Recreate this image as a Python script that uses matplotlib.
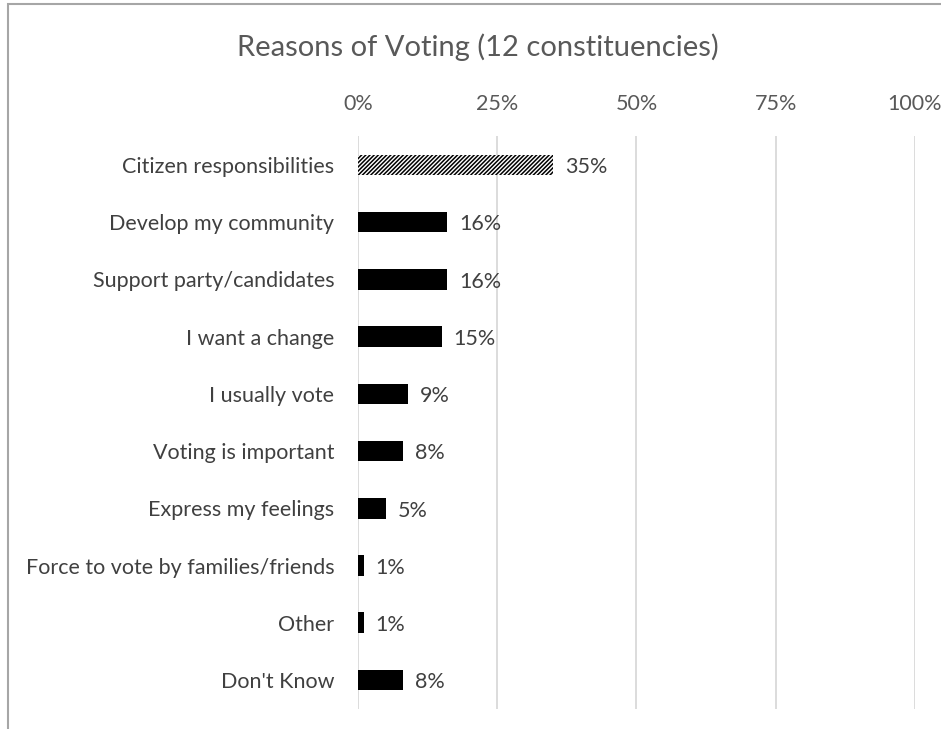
import matplotlib.pyplot as plt
from matplotlib.patches import Rectangle

# data
reasons = ["Citizen responsibilities", "Develop my community", "Support party/candidates",
           "I want a change", "I usually vote", "Voting is important", "Express my feelings",
           "Force to vote by families/friends", "Other", "Don't Know"]
shares = [0.35, 0.16, 0.16, 0.15, 0.09, 0.08, 0.05, 0.01, 0.01, 0.08]
hatched = [True, False, False, False, False, False, False, False, False, False]
ticks = [0, 0.25, 0.5, 0.75, 1.0]
tick_labels = ["0%", "25%", "50%", "75%", "100%"]

plt.rcParams['font.family'] = ['Lato', 'DejaVu Sans']
plt.rcParams['hatch.linewidth'] = 1.1
plt.rcParams['hatch.color'] = 'black'

fig = plt.figure(figsize=(9.41, 7.29), dpi=100)
ax = fig.add_axes([0.3804, 0.028, 0.592, 0.785])

ypos = list(range(len(reasons)))
for y, v, h in zip(ypos, shares, hatched):
    if h:
        ax.barh(y, v, height=0.36, color='white', edgecolor='black', linewidth=0,
                hatch='////////', zorder=3)
    else:
        ax.barh(y, v, height=0.36, color='black', linewidth=0, zorder=3)
    ax.text(v + 0.022, y + 0.04, f"{round(v * 100)}%", va='center', ha='left',
            fontsize=15.5, color='#404040')

ax.set_ylim(len(reasons) - 0.5, -0.5)
ax.set_xlim(0, 1)
ax.set_yticks(ypos)
ax.set_yticklabels(reasons, fontsize=15.5, color='#404040')
ax.xaxis.tick_top()
ax.set_xticks(ticks)
ax.set_xticklabels(tick_labels, fontsize=15.5, color='#595959')
ax.tick_params(axis='y', length=0, pad=17)
ax.tick_params(axis='x', length=0, pad=16)
ax.grid(axis='x', color='#d9d9d9', linewidth=1.3, zorder=0)
for s in ax.spines.values():
    s.set_visible(False)

fig.text(0.508, 0.935, "Reasons of Voting (12 constituencies)", ha='center', va='center',
         fontsize=21, color='#595959')

# outer chart frame (cropped)
fig.patches.append(Rectangle((0.0085, -0.1), 2, 1.095, transform=fig.transFigure,
                             fill=False, edgecolor='#a6a6a6', linewidth=1.5))

fig.savefig("out.png", dpi=100)
